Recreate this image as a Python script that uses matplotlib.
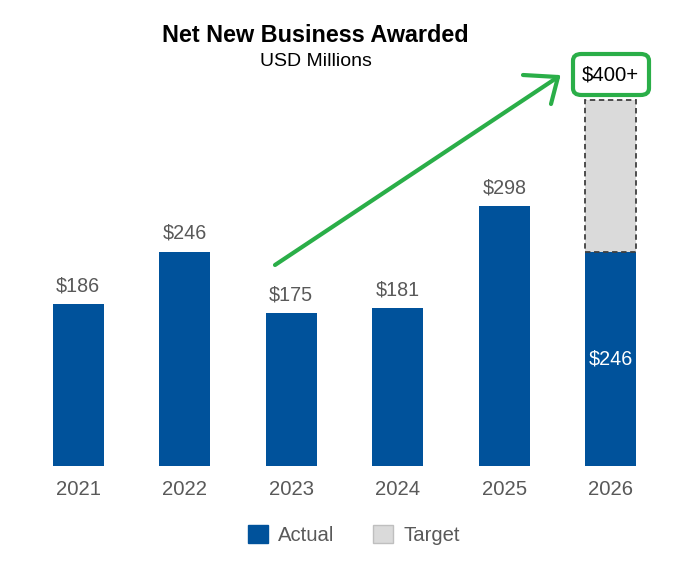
import matplotlib
matplotlib.use('Agg')
import matplotlib.pyplot as plt
from matplotlib.patches import FancyBboxPatch, Patch
from matplotlib.lines import Line2D

years = ['2021', '2022', '2023', '2024', '2025', '2026']
actual = [186, 246, 175, 181, 298, 246]
target_total = 420   # top of the dashed target bar in 2026
target_label = '$400+'

blue = '#00529B'
grey_txt = '#595959'
green = '#2AAE48'

plt.rcParams['font.family'] = ['Liberation Sans', 'DejaVu Sans']

fig = plt.figure(figsize=(6.99, 5.65), dpi=100)
W, H = 699, 565
ax = fig.add_axes([25 / W, (H - 466) / H, 639 / W, 401 / H])

x = list(range(len(years)))
ax.bar(x, actual, width=0.48, color=blue, zorder=2)
# target portion stacked on 2026
ax.bar(x[-1], target_total - actual[-1], bottom=actual[-1], width=0.48,
       color='#DADADA', edgecolor='#404040', linestyle=(0, (3, 2)), linewidth=1.3, zorder=2)

for xi, v in zip(x[:-1], actual[:-1]):
    ax.text(xi, v + 10, f'${v}', ha='center', va='bottom', fontsize=14.2, color=grey_txt)
ax.text(x[-1], actual[-1] / 2, f'${actual[-1]}', ha='center', va='center',
        fontsize=14.2, color='white')

ax.set_xlim(-0.5, 5.5)
ax.set_ylim(0, 460)
ax.set_xticks(x)
ax.set_xticklabels(years, fontsize=14.6, color=grey_txt)
ax.tick_params(axis='x', length=0, pad=10)
ax.set_yticks([])
for s in ax.spines.values():
    s.set_visible(False)

# title
fig.text(315 / W, 1 - 36 / H, 'Net New Business Awarded', ha='center', va='center',
         fontsize=16.8, fontweight='bold', color='black')
fig.text(316 / W, 1 - 62 / H, 'USD Millions', ha='center', va='center',
         fontsize=14, color='black')

# $400+ box
fig.text(610 / W, 1 - 75 / H, target_label, ha='center', va='center', fontsize=14.6, color='black')
box = FancyBboxPatch((573 / W, 1 - 95 / H), 76 / W, 41 / H,
                     boxstyle='round,pad=0,rounding_size=0.012', transform=fig.transFigure,
                     fill=False, edgecolor=green, linewidth=3)
fig.patches.append(box)

# green hand-drawn arrow: shaft + two arms
tip = (558, 77)
for start in [(275, 265), (523, 75), (551, 104)]:
    fig.add_artist(Line2D([start[0] / W, tip[0] / W], [1 - start[1] / H, 1 - tip[1] / H],
                          transform=fig.transFigure, color=green, linewidth=3,
                          solid_capstyle='round'))

# legend
handles = [Patch(facecolor=blue, edgecolor=blue, label='Actual'),
           Patch(facecolor='#DADADA', edgecolor='#BFBFBF', label='Target')]
leg = fig.legend(handles=handles, loc='center', bbox_to_anchor=(354 / W, 1 - 535 / H),
                 ncol=2, frameon=False, fontsize=14.6, handlelength=1.0, handleheight=1.0,
                 columnspacing=1.9, handletextpad=0.5)
for t in leg.get_texts():
    t.set_color(grey_txt)

fig.savefig('out.png', dpi=100)
